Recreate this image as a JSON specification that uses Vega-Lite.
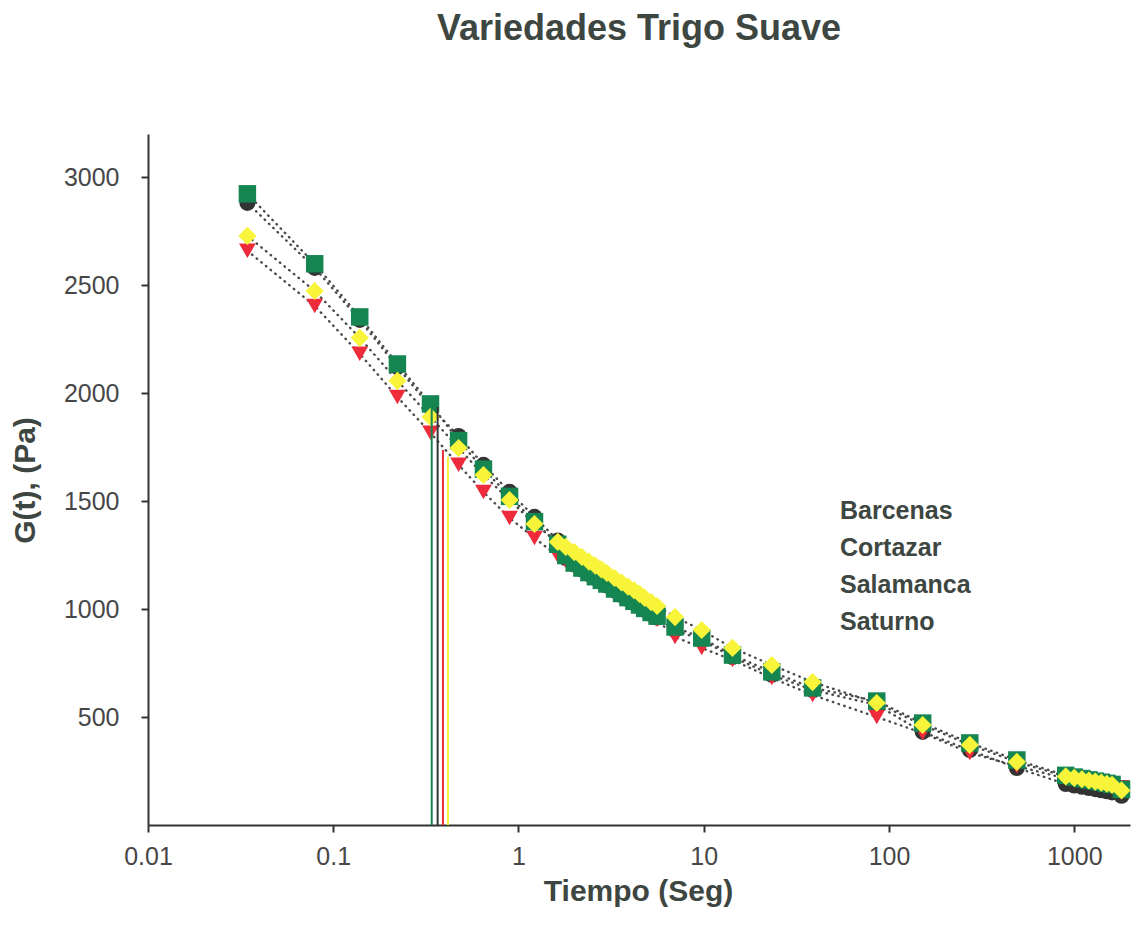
{
  "$schema": "https://vega.github.io/schema/vega-lite/v6.json",
  "width": 982,
  "height": 691,
  "autosize": {"type": "none"},
  "padding": {"left": 148, "top": 134, "right": 2, "bottom": 114},
  "background": "white",
  "title": {"text": "Variedades Trigo Suave", "font": "Liberation Sans", "fontSize": 36, "fontWeight": "bold", "color": "#3d4640", "anchor": "middle", "offset": 86},
  "config": {
    "view": {"stroke": null},
    "axis": {"grid": false, "labelFlush": false, "labelFont": "Liberation Sans", "labelFontSize": 25, "labelColor": "#474747", "tickColor": "#333333", "tickWidth": 2, "tickSize": 7, "domainColor": "#333333", "domainWidth": 2, "titleFont": "Liberation Sans", "titleFontSize": 30, "titleFontWeight": "bold", "titleColor": "#3d4640"},
    "legend": {"labelFont": "Liberation Sans"}
  },
  "datasets": {
    "g": [
      {"t": 0.0344, "Barcenas": 2881, "Cortazar": 2659, "Salamanca": 2923, "Saturno": 2728},
      {"t": 0.0794, "Barcenas": 2580, "Cortazar": 2404, "Salamanca": 2599, "Saturno": 2473},
      {"t": 0.139, "Barcenas": 2339, "Cortazar": 2182, "Salamanca": 2353, "Saturno": 2256},
      {"t": 0.222, "Barcenas": 2121, "Cortazar": 1982, "Salamanca": 2135, "Saturno": 2057},
      {"t": 0.335, "Barcenas": 1936, "Cortazar": 1816, "Salamanca": 1950, "Saturno": 1890},
      {"t": 0.475, "Barcenas": 1802, "Cortazar": 1668, "Salamanca": 1780, "Saturno": 1746},
      {"t": 0.647, "Barcenas": 1668, "Cortazar": 1542, "Salamanca": 1648, "Saturno": 1621},
      {"t": 0.895, "Barcenas": 1543, "Cortazar": 1422, "Salamanca": 1522, "Saturno": 1505},
      {"t": 1.22, "Barcenas": 1427, "Cortazar": 1329, "Salamanca": 1405, "Saturno": 1394},
      {"t": 1.63, "Barcenas": 1318, "Cortazar": 1246, "Salamanca": 1300, "Saturno": 1311},
      {"t": 1.8, "Barcenas": 1236, "Cortazar": 1221, "Salamanca": 1248, "Saturno": 1288},
      {"t": 2.0, "Barcenas": 1206, "Cortazar": 1196, "Salamanca": 1213, "Saturno": 1264},
      {"t": 2.2, "Barcenas": 1183, "Cortazar": 1173, "Salamanca": 1190, "Saturno": 1241},
      {"t": 2.4, "Barcenas": 1162, "Cortazar": 1152, "Salamanca": 1169, "Saturno": 1220},
      {"t": 2.6, "Barcenas": 1143, "Cortazar": 1133, "Salamanca": 1150, "Saturno": 1201},
      {"t": 2.8, "Barcenas": 1126, "Cortazar": 1116, "Salamanca": 1133, "Saturno": 1184},
      {"t": 3.0, "Barcenas": 1109, "Cortazar": 1099, "Salamanca": 1116, "Saturno": 1167},
      {"t": 3.3, "Barcenas": 1086, "Cortazar": 1076, "Salamanca": 1093, "Saturno": 1144},
      {"t": 3.6, "Barcenas": 1065, "Cortazar": 1055, "Salamanca": 1072, "Saturno": 1123},
      {"t": 3.9, "Barcenas": 1046, "Cortazar": 1036, "Salamanca": 1053, "Saturno": 1104},
      {"t": 4.2, "Barcenas": 1029, "Cortazar": 1019, "Salamanca": 1036, "Saturno": 1087},
      {"t": 4.5, "Barcenas": 1012, "Cortazar": 1002, "Salamanca": 1019, "Saturno": 1070},
      {"t": 4.8, "Barcenas": 996, "Cortazar": 986, "Salamanca": 1003, "Saturno": 1052},
      {"t": 5.2, "Barcenas": 977, "Cortazar": 967, "Salamanca": 984, "Saturno": 1032},
      {"t": 5.6, "Barcenas": 960, "Cortazar": 950, "Salamanca": 967, "Saturno": 1014},
      {"t": 7.0, "Barcenas": 903, "Cortazar": 871, "Salamanca": 917, "Saturno": 963},
      {"t": 9.75, "Barcenas": 857, "Cortazar": 820, "Salamanca": 866, "Saturno": 903},
      {"t": 14.3, "Barcenas": 778, "Cortazar": 764, "Salamanca": 787, "Saturno": 820},
      {"t": 23.3, "Barcenas": 695, "Cortazar": 681, "Salamanca": 709, "Saturno": 741},
      {"t": 38.7, "Barcenas": 625, "Cortazar": 602, "Salamanca": 635, "Saturno": 662},
      {"t": 85.9, "Barcenas": 556, "Cortazar": 500, "Salamanca": 574, "Saturno": 565},
      {"t": 152, "Barcenas": 431, "Cortazar": 426, "Salamanca": 472, "Saturno": 463},
      {"t": 273, "Barcenas": 347, "Cortazar": 334, "Salamanca": 380, "Saturno": 371},
      {"t": 490, "Barcenas": 264, "Cortazar": 273, "Salamanca": 301, "Saturno": 292},
      {"t": 900, "Barcenas": 190, "Cortazar": 215, "Salamanca": 230, "Saturno": 225},
      {"t": 1000, "Barcenas": 183, "Cortazar": 210, "Salamanca": 222, "Saturno": 218},
      {"t": 1100, "Barcenas": 177, "Cortazar": 205, "Salamanca": 215, "Saturno": 212},
      {"t": 1200, "Barcenas": 171, "Cortazar": 200, "Salamanca": 209, "Saturno": 206},
      {"t": 1300, "Barcenas": 166, "Cortazar": 196, "Salamanca": 203, "Saturno": 201},
      {"t": 1400, "Barcenas": 161, "Cortazar": 192, "Salamanca": 198, "Saturno": 196},
      {"t": 1500, "Barcenas": 156, "Cortazar": 188, "Salamanca": 193, "Saturno": 191},
      {"t": 1600, "Barcenas": 151, "Cortazar": 184, "Salamanca": 188, "Saturno": 186},
      {"t": 1800, "Barcenas": 135, "Cortazar": 175, "Salamanca": 165, "Saturno": 160}
    ],
    "rules": [
      {"variedad": "Salamanca", "t": 0.340, "g": 1955},
      {"variedad": "Barcenas", "t": 0.366, "g": 1936},
      {"variedad": "Cortazar", "t": 0.391, "g": 1737},
      {"variedad": "Saturno", "t": 0.416, "g": 1704}
    ]
  },
  "layer": [
    {
      "data": {"name": "g"},
      "transform": [{"fold": ["Barcenas", "Cortazar", "Salamanca", "Saturno"], "as": ["variedad", "G"]}],
      "mark": {"type": "line", "color": "#4a4a4a", "strokeWidth": 2.4, "strokeDash": [0.5, 5.5], "strokeCap": "round"},
      "encoding": {
        "x": {"field": "t", "type": "quantitative", "scale": {"type": "log", "domain": [0.01, 2000], "nice": false}, "axis": {"values": [0.01, 0.1, 1, 10, 100, 1000], "format": "~g", "labelPadding": 12, "title": "Tiempo (Seg)", "titleX": 490, "titleY": 66, "titleBaseline": "middle", "titleAlign": "center"}},
        "y": {"field": "G", "type": "quantitative", "scale": {"domain": [0, 3200], "nice": false}, "axis": {"values": [500, 1000, 1500, 2000, 2500, 3000], "format": "d", "labelPadding": 22, "title": "G(t), (Pa)", "titleX": -123, "titleY": 346, "titleAngle": -90, "titleBaseline": "middle", "titleAlign": "center"}},
        "detail": {"field": "variedad"}
      }
    },
    {
      "data": {"name": "g"},
      "transform": [{"fold": ["Barcenas", "Cortazar", "Salamanca", "Saturno"], "as": ["variedad", "G"]}],
      "mark": {"type": "point", "filled": true, "opacity": 1},
      "encoding": {
        "x": {"field": "t", "type": "quantitative"},
        "y": {"field": "G", "type": "quantitative"},
        "color": {"field": "variedad", "type": "nominal", "scale": {"domain": ["Barcenas", "Cortazar", "Salamanca", "Saturno"], "range": ["#333333", "#ee2b3b", "#158551", "#f8f43a"]}, "legend": {"orient": "none", "legendX": 667, "legendY": 364, "title": null, "labelFontSize": 25, "labelFontWeight": "bold", "labelColor": "#3d4640", "symbolSize": 0, "symbolOpacity": 0, "symbolStrokeWidth": 0, "labelOffset": 0, "rowPadding": 11, "padding": 0}},
        "shape": {"field": "variedad", "type": "nominal", "scale": {"domain": ["Barcenas", "Cortazar", "Salamanca", "Saturno"], "range": ["circle", "triangle-down", "square", "diamond"]}, "legend": null},
        "size": {"field": "variedad", "type": "nominal", "scale": {"domain": ["Barcenas", "Cortazar", "Salamanca", "Saturno"], "range": [256, 330, 256, 440]}, "legend": null},
        "order": {"field": "variedad", "type": "nominal", "sort": "ascending"}
      }
    },
    {
      "data": {"name": "rules"},
      "mark": {"type": "rule", "strokeWidth": 2},
      "encoding": {
        "x": {"field": "t", "type": "quantitative"},
        "y": {"field": "g", "type": "quantitative"},
        "y2": {"datum": 0},
        "color": {"field": "variedad", "type": "nominal", "legend": null}
      }
    }
  ]
}
